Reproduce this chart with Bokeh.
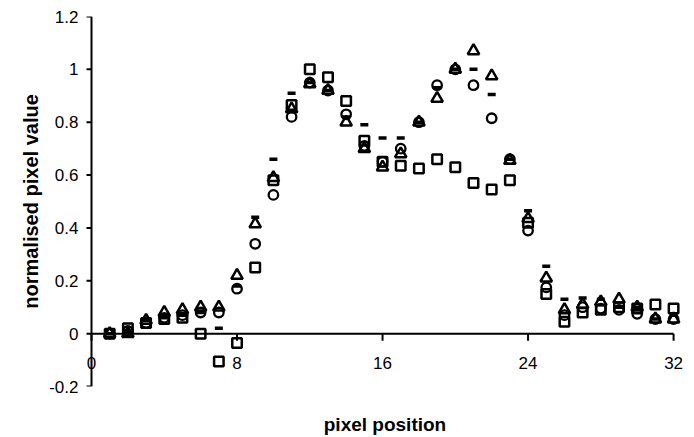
import math
from bokeh.plotting import figure
from bokeh.models import Range1d, FixedTicker, CustomJSTickFormatter
from bokeh.core.properties import value
from bokeh.embed import file_html
from bokeh.resources import INLINE

# ---- data ----
pixel = list(range(1, 33))
squares = [0.0, 0.02, 0.04, 0.055, 0.06, 0.0, -0.105, -0.035, 0.25, 0.58, 0.865, 1.0,
           0.97, 0.88, 0.73, 0.65, 0.635, 0.625, 0.66, 0.63, 0.57, 0.545, 0.58, 0.42,
           0.15, 0.045, 0.08, 0.09, 0.10, 0.095, 0.11, 0.095]
circles = [0.0, 0.01, 0.04, 0.06, 0.07, 0.08, 0.08, 0.17, 0.34, 0.525, 0.82, 0.95,
           0.92, 0.83, 0.71, 0.65, 0.70, 0.80, 0.94, 1.0, 0.94, 0.815, 0.66, 0.39,
           0.175, 0.07, 0.10, 0.095, 0.09, 0.075, 0.055, 0.055]
triangles = [0.0, 0.0, 0.05, 0.08, 0.09, 0.10, 0.10, 0.22, 0.415, 0.59, 0.85, 0.945,
             0.92, 0.80, 0.70, 0.63, 0.68, 0.80, 0.89, 1.0, 1.07, 0.975, 0.655, 0.435,
             0.21, 0.09, 0.11, 0.12, 0.13, 0.10, 0.055, 0.055]
dashes = [0.0, 0.01, 0.05, 0.06, 0.07, 0.08, 0.02, 0.18, 0.44, 0.66, 0.91, 0.95,
          0.92, 0.82, 0.79, 0.74, 0.74, 0.80, 0.93, 1.0, 1.0, 0.905, 0.66, 0.465,
          0.255, 0.13, 0.135, 0.13, 0.10, 0.10, 0.055, 0.07]
x_ticks = [0, 8, 16, 24, 32]
x_tick_labels = ["0", "8", "16", "24", "32"]
y_ticks = [-0.2, 0, 0.2, 0.4, 0.6, 0.8, 1.0, 1.2]
x_title = "pixel position"
y_title = "normalised pixel value"

FONT = "Liberation Sans"
W, H = 694, 437
BORDER_L, BORDER_R, BORDER_T, BORDER_B = 85, 10, 16, 51
X_MIN, X_MAX = -0.33, 32.6
Y_MIN, Y_MAX = y_ticks[0], y_ticks[-1]
FRAME_W = W - BORDER_L - BORDER_R
FRAME_H = H - BORDER_T - BORDER_B
PX_X = FRAME_W / (X_MAX - X_MIN)   # pixels per x unit
PX_Y = FRAME_H / (Y_MAX - Y_MIN)   # pixels per y unit
XTICK_PX = 7
YTICK_PX = 5
RULE_W = 2

p = figure(width=W, height=H, output_backend="svg", toolbar_location=None,
           x_range=Range1d(X_MIN, X_MAX), y_range=Range1d(Y_MIN, Y_MAX),
           min_border_left=BORDER_L, min_border_right=BORDER_R,
           min_border_top=BORDER_T, min_border_bottom=BORDER_B)
p.background_fill_color = "white"
p.border_fill_color = "white"
p.outline_line_color = None
p.xgrid.visible = False
p.ygrid.visible = False

# ---- axis rules (vertical one at x = 0, horizontal one through y = 0) ----
x0 = x_ticks[0]
y_mid = (Y_MIN + Y_MAX) / 2
x_mid = (x_ticks[0] + x_ticks[-1]) / 2
# vertical rule
p.scatter([x0], [y_mid], marker="dash", angle=math.pi / 2,
          size=(Y_MAX - Y_MIN) * PX_Y, line_color="black", line_width=RULE_W)
# outward ticks of the vertical rule
p.scatter([x0 - YTICK_PX / 2 / PX_X] * len(y_ticks), y_ticks, marker="dash",
          size=YTICK_PX, line_color="black", line_width=RULE_W)
# horizontal rule at y = 0
p.scatter([x_mid], [0], marker="dash", size=(x_ticks[-1] - x_ticks[0]) * PX_X,
          line_color="black", line_width=RULE_W)
# downward ticks of the horizontal rule
p.scatter(x_ticks, [-XTICK_PX / 2 / PX_Y] * len(x_ticks), marker="dash",
          angle=math.pi / 2, size=XTICK_PX, line_color="black", line_width=RULE_W)
# tick labels of the horizontal rule
p.text(x=x_ticks, y=[0] * len(x_ticks), text=x_tick_labels, text_align="center",
       text_baseline="middle", y_offset=29, text_font=value(FONT),
       text_font_size="17px", text_color="black")

# ---- data markers ----
p.scatter(pixel, squares, marker="square", size=9.5, fill_color=None,
          line_color="black", line_width=2.5)
p.scatter(pixel, circles, marker="circle", size=9.5, fill_color=None,
          line_color="black", line_width=2.3)
p.scatter(pixel, triangles, marker="triangle", size=11.5, fill_color=None,
          line_color="black", line_width=2.5)
p.scatter(pixel, dashes, marker="dash", size=8, line_color="black", line_width=3.5)

# ---- bottom axis: only carries the title ----
xa = p.xaxis[0]
xa.ticker = FixedTicker(ticks=x_ticks)
xa.formatter = CustomJSTickFormatter(code="return '';")
xa.axis_line_color = None
xa.major_tick_line_color = None
xa.minor_tick_line_color = None
xa.major_tick_in = 0
xa.major_tick_out = 0
xa.major_label_standoff = 0
xa.major_label_text_font_size = "1px"
xa.axis_label = x_title
xa.axis_label_text_font = FONT
xa.axis_label_text_font_style = "bold"
xa.axis_label_text_font_size = "19px"
xa.axis_label_text_color = "black"
xa.axis_label_standoff = 27

# ---- left axis: tick labels and title ----
ya = p.yaxis[0]
ya.ticker = FixedTicker(ticks=y_ticks)
ya.formatter = CustomJSTickFormatter(code="return tick.toFixed(1).replace(/\\.0$/, '');")
ya.axis_line_color = None
ya.major_tick_line_color = None
ya.minor_tick_line_color = None
ya.major_tick_in = 0
ya.major_tick_out = 0
ya.major_label_text_font = FONT
ya.major_label_text_font_size = "17px"
ya.major_label_text_color = "black"
ya.major_label_standoff = 7
ya.axis_label = y_title
ya.axis_label_text_font = FONT
ya.axis_label_text_font_style = "bold"
ya.axis_label_text_font_size = "20px"
ya.axis_label_text_color = "black"
ya.axis_label_standoff = 4

open("out.html", "w").write(file_html(p, INLINE))
